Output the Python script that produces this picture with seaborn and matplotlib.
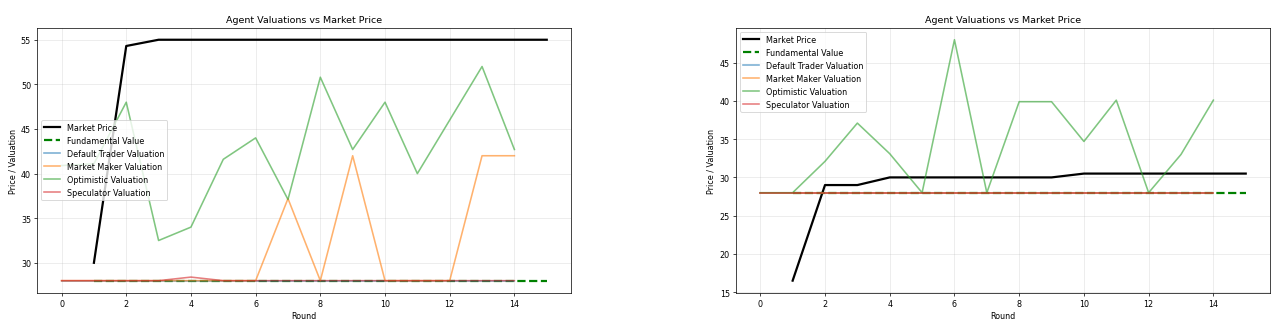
import numpy as np
import matplotlib
matplotlib.use("Agg")
import matplotlib.pyplot as plt
import seaborn as sns

# ---- Run A ----
a_price_rounds = list(range(1, 16))
a_market_price = [30.0, 54.3, 55, 55, 55, 55, 55, 55, 55, 55, 55, 55, 55, 55, 55]
a_fundamental = [28] * 15

a_val_rounds = list(range(0, 15))
a_default_trader = [28] * 15
a_market_maker = [28, 28, 28, 28, 28, 28, 28, 37.2, 28, 42, 28, 28, 28, 42, 42]
a_optimistic = [40.9, 41.1, 48, 32.5, 34, 41.6, 44, 37.1, 50.8, 42.7, 48, 40, 46, 52, 42.7]
a_speculator = [28, 28, 28, 28, 28.4, 28, 28, 28, 28, 28, 28, 28, 28, 28, 28]

# ---- Run B ----
b_price_rounds = list(range(1, 16))
b_market_price = [16.5, 29, 29, 30, 30, 30, 30, 30, 30, 30.5, 30.5, 30.5, 30.5, 30.5, 30.5]
b_fundamental = [28] * 15

b_val_rounds = list(range(0, 15))
b_default_trader = [28] * 15
b_market_maker = [28] * 15
b_optimistic = [28, 28, 32.1, 37.1, 33.1, 28, 48, 28, 39.9, 39.9, 34.7, 40.1, 28, 33.0, 40.1]
b_speculator = [28] * 15

runs = [
    (a_price_rounds, a_market_price, a_fundamental, a_val_rounds,
     a_default_trader, a_market_maker, a_optimistic, a_speculator, "center left"),
    (b_price_rounds, b_market_price, b_fundamental, b_val_rounds,
     b_default_trader, b_market_maker, b_optimistic, b_speculator, "upper left"),
]

plt.rcParams.update({
    "font.size": 9,
    "axes.labelsize": 9,
    "xtick.labelsize": 9,
    "ytick.labelsize": 9,
    "legend.fontsize": 9,
})

fig = plt.figure(figsize=(20, 5.0704), dpi=63.9)
positions = [
    [37.3 / 1278, 1 - 293.7 / 324, (571 - 37.3) / 1278, (293.7 - 28.7) / 324],
    [736 / 1278, 1 - 293.7 / 324, (1270 - 736) / 1278, (293.7 - 28.7) / 324],
]

for pos, run in zip(positions, runs):
    (p_rounds, price, fund, v_rounds, default, mm, opt, spec, legend_loc) = run
    ax = fig.add_axes(pos)
    sns.lineplot(x=p_rounds, y=price, ax=ax, color="black", linewidth=2.5,
                 label="Market Price")
    sns.lineplot(x=p_rounds, y=fund, ax=ax, color="green", linewidth=2.5,
                 linestyle="--", label="Fundamental Value")
    sns.lineplot(x=v_rounds, y=default, ax=ax, color="tab:blue", alpha=0.6,
                 linewidth=1.8, label="Default Trader Valuation")
    sns.lineplot(x=v_rounds, y=mm, ax=ax, color="tab:orange", alpha=0.6,
                 linewidth=1.8, label="Market Maker Valuation")
    sns.lineplot(x=v_rounds, y=opt, ax=ax, color="tab:green", alpha=0.6,
                 linewidth=1.8, label="Optimistic Valuation")
    sns.lineplot(x=v_rounds, y=spec, ax=ax, color="tab:red", alpha=0.6,
                 linewidth=1.8, label="Speculator Valuation")
    ax.set_title("Agent Valuations vs Market Price", fontsize=10.7)
    ax.set_xlabel("Round")
    ax.set_ylabel("Price / Valuation")
    ax.grid(True, alpha=0.3)
    ax.legend(loc=legend_loc)

fig.savefig("out.png", dpi=63.9)
